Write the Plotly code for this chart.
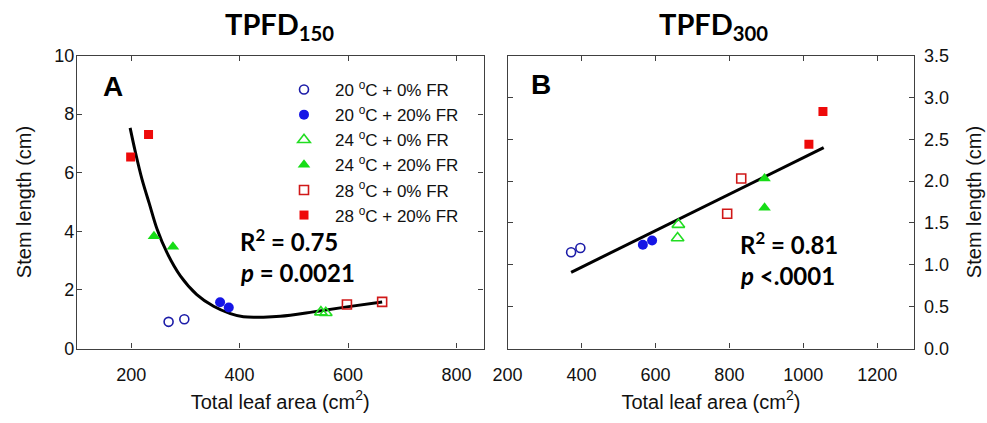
import plotly.graph_objects as go

# ---------------- data ----------------
series_names = ["20 <sup>o</sup>C + 0% FR", "20 <sup>o</sup>C + 20% FR",
                "24 <sup>o</sup>C + 0% FR", "24 <sup>o</sup>C + 20% FR",
                "28 <sup>o</sup>C + 0% FR", "28 <sup>o</sup>C + 20% FR"]

# Panel A (TPFD150): total leaf area (cm2) vs stem length (cm)
a_20_0_x = [269, 298];   a_20_0_y = [0.91, 1.00]
a_20_20_x = [364, 380];  a_20_20_y = [1.58, 1.40]
a_24_0_x = [550, 559];   a_24_0_y = [1.24, 1.22]
a_24_20_x = [242, 277];  a_24_20_y = [3.83, 3.47]
a_28_0_x = [598, 663];   a_28_0_y = [1.50, 1.59]
a_28_20_x = [199, 232];  a_28_20_y = [6.54, 7.30]

# Panel B (TPFD300)
b_20_0_x = [372, 397];   b_20_0_y = [1.15, 1.20]
b_20_20_x = [566, 591];  b_20_20_y = [1.24, 1.29]
b_24_0_x = [662, 660];   b_24_0_y = [1.48, 1.32]
b_24_20_x = [895, 895];  b_24_20_y = [2.03, 1.68]
b_28_0_x = [832, 794];   b_28_0_y = [2.03, 1.61]
b_28_20_x = [1015, 1053]; b_28_20_y = [2.44, 2.83]

# fitted curves
fitA_x = [198, 208, 220, 233, 248, 266, 291, 321, 352, 383, 407, 444, 475, 536, 598, 663]
fitA_y = [7.53, 6.68, 5.77, 4.97, 4.06, 3.27, 2.47, 1.84, 1.44, 1.19, 1.08, 1.07, 1.10, 1.25, 1.42, 1.59]
fitB_x = [372, 1055]
fitB_y = [0.91, 2.40]

xA_ticks = [200, 400, 600, 800]
xB_ticks = [200, 400, 600, 800, 1000, 1200]
yA_ticks = [0, 2, 4, 6, 8, 10]
yB_ticks = [0.0, 0.5, 1.0, 1.5, 2.0, 2.5, 3.0, 3.5]

# ---------------- styles ----------------
styles = [
    dict(symbol="circle-open", color="#1c1ca8", size=9, line=dict(width=1.6, color="#1c1ca8")),
    dict(symbol="circle", color="#1515e6", size=10),
    dict(symbol="triangle-up-open", color="#22dd22", size=11, line=dict(width=1.6, color="#22dd22")),
    dict(symbol="triangle-up", color="#16dd16", size=11),
    dict(symbol="square-open", color="#d01818", size=9, line=dict(width=1.6, color="#d01818")),
    dict(symbol="square", color="#ee0a0a", size=9),
]

A_data = [(a_20_0_x, a_20_0_y), (a_20_20_x, a_20_20_y), (a_24_0_x, a_24_0_y),
          (a_24_20_x, a_24_20_y), (a_28_0_x, a_28_0_y), (a_28_20_x, a_28_20_y)]
B_data = [(b_20_0_x, b_20_0_y), (b_20_20_x, b_20_20_y), (b_24_0_x, b_24_0_y),
          (b_24_20_x, b_24_20_y), (b_28_0_x, b_28_0_y), (b_28_20_x, b_28_20_y)]

fig = go.Figure()

fig.add_trace(go.Scatter(x=fitA_x, y=fitA_y, mode="lines", line=dict(color="black", width=3, shape="spline", smoothing=1.0),
                         showlegend=False, xaxis="x", yaxis="y"))
fig.add_trace(go.Scatter(x=fitB_x, y=fitB_y, mode="lines", line=dict(color="black", width=3),
                         showlegend=False, xaxis="x2", yaxis="y2"))

for name, st, (x, y) in zip(series_names, styles, A_data):
    fig.add_trace(go.Scatter(x=x, y=y, mode="markers", name=name, marker=st,
                             xaxis="x", yaxis="y", showlegend=True))
for name, st, (x, y) in zip(series_names, styles, B_data):
    fig.add_trace(go.Scatter(x=x, y=y, mode="markers", name=name, marker=st,
                             xaxis="x2", yaxis="y2", showlegend=False))

W, H = 987, 423
def px(x): return x / W
def py(y): return (H - y) / H

tickfont = dict(family="Liberation Sans, Arial", size=18, color="#111111")
titlefont = dict(family="Liberation Sans, Arial", size=20, color="#111111")
axis_common = dict(showline=True, linecolor="#404040", linewidth=1.2, mirror="ticks",
                   ticks="inside", ticklen=5, tickcolor="#404040", tickwidth=1.2,
                   showgrid=False, zeroline=False, tickfont=tickfont, automargin=False)

fig.update_layout(
    width=W, height=H, margin=dict(l=0, r=0, t=0, b=0, autoexpand=False),
    paper_bgcolor="white", plot_bgcolor="white",
    xaxis=dict(domain=[px(77), px(483.5)], range=[100, 850], tickvals=xA_ticks, anchor="y",
               ticklabelstandoff=10,
               title=dict(text="Total leaf area (cm<sup>2</sup>)", font=titlefont, standoff=10),
               **axis_common),
    yaxis=dict(domain=[py(348.5), py(55.5)], range=[0, 10], tickvals=yA_ticks, anchor="x",
               ticklabelstandoff=-2,
               title=dict(text="Stem length (cm)", font=titlefont, standoff=17),
               **axis_common),
    xaxis2=dict(domain=[px(507.5), px(914.3)], range=[200, 1300], tickvals=xB_ticks, anchor="y2",
                ticklabelstandoff=10,
                title=dict(text="Total leaf area (cm<sup>2</sup>)", font=titlefont, standoff=10),
                **axis_common),
    yaxis2=dict(domain=[py(348.5), py(55.5)], range=[0, 3.5], tickvals=yB_ticks, tickformat=".1f",
                anchor="x2", side="right", ticklabelstandoff=5,
                title=dict(text="Stem length (cm)", font=titlefont, standoff=18),
                **axis_common),
    legend=dict(x=px(273), y=py(72), xanchor="left", yanchor="top",
                font=dict(family="Liberation Sans, Arial", size=17, color="#111111"),
                bgcolor="rgba(0,0,0,0)", itemwidth=52, tracegroupgap=0),
    showlegend=True,
)

bold = "Lato, Liberation Sans, Arial"
ann = [
    dict(x=px(279), y=py(26), text="<b>TPFD<sub>150</sub></b>", font=dict(family=bold, size=29, color="black")),
    dict(x=px(713), y=py(26), text="<b>TPFD<sub>300</sub></b>", font=dict(family=bold, size=29, color="black")),
    dict(x=px(113), y=py(87), text="<b>A</b>", font=dict(family="Liberation Sans, Arial", size=28, color="black")),
    dict(x=px(541), y=py(85), text="<b>B</b>", font=dict(family="Liberation Sans, Arial", size=28, color="black")),
    dict(x=px(238), y=py(240), xanchor="left", text="<b>R<sup>2</sup> = 0.75</b>", font=dict(family=bold, size=24, color="black")),
    dict(x=px(238), y=py(272), xanchor="left", text="<b><i>p</i> = 0.0021</b>", font=dict(family=bold, size=24, color="black")),
    dict(x=px(738), y=py(243), xanchor="left", text="<b>R<sup>2</sup> = 0.81</b>", font=dict(family=bold, size=24, color="black")),
    dict(x=px(738), y=py(275), xanchor="left", text="<b><i>p</i> &lt;.0001</b>", font=dict(family=bold, size=24, color="black")),
]
for a in ann:
    a.setdefault("xanchor", "center")
    fig.add_annotation(xref="paper", yref="paper", yanchor="middle", showarrow=False, **a)

# remove the default 8px page margin so the figure fills the window exactly
fig.write_html("out.html", config={"displayModeBar": False},
               post_script="document.body.style.margin='0px';")
